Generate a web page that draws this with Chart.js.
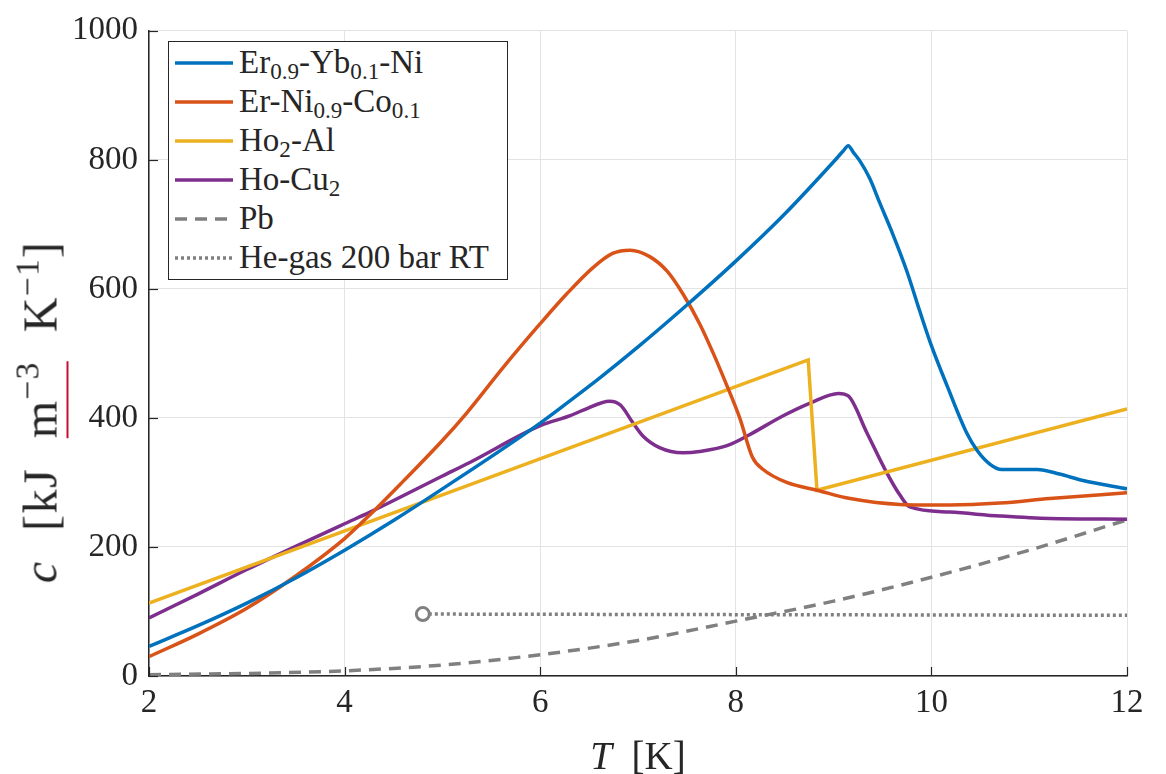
<!DOCTYPE html>
<html>
<head>
<meta charset="utf-8">
<script src="https://cdn.jsdelivr.net/npm/chart.js@4"></script>
<style>
  html, body { margin: 0; padding: 0; background: #fff; }
  #wrap { position: relative; width: 1166px; height: 774px; font-family: "Liberation Serif", "DejaVu Serif", "Times New Roman", serif; color: #262626; }
  #plot { position: absolute; left: 0; top: 0; }
  #legend { position: absolute; left: 168px; top: 41px; width: 340px; height: 239px; border: 1px solid #262626; background: #fff; box-sizing: border-box; padding-top: 1px; }
  .row { height: 39px; line-height: 39px; font-size: 33px; white-space: nowrap; display: flex; align-items: center; }
  .row svg { margin-left: 6px; margin-right: 6px; }
  .row sub { font-size: 0.7em; vertical-align: -0.25em; line-height: 0; }
  #ytitle { position: absolute; left: 40px; top: 412px; transform: translate(-50%, -50%) rotate(-90deg); font-size: 48px; letter-spacing: 1.5px; word-spacing: 16px; white-space: nowrap; }
  #ytitle sup { font-size: 0.7em; vertical-align: 0.55em; line-height: 0; letter-spacing: 1px; }
  .ul { border-bottom: 2px solid #c8102e; }
  #xtitle { position: absolute; left: 638px; top: 755px; transform: translate(-50%, -50%); font-size: 39px; white-space: nowrap; }
</style>
</head>
<body>
<div id="wrap">
  <canvas id="plot" width="1166" height="774"></canvas>
  <div id="legend"></div>
  <div id="ytitle"><i>c</i> [kJ <span class="ul">m<sup>−3</sup></span> K<sup>−1</sup>]</div>
  <div id="xtitle"><i>T</i>&nbsp;&nbsp;[K]</div>
</div>
<script>
// Er0.9-Yb0.1-Ni
const erYbT = [2, 2.5, 3, 3.5, 4, 4.5, 5, 6, 6.3, 6.61, 7, 7.5, 8, 8.5, 9, 9.1, 9.15, 9.2, 9.27, 9.37, 9.47, 9.61, 9.75, 9.88, 10, 10.16, 10.36, 10.47, 10.6, 10.72, 11.08, 11.31, 11.55, 12];
const erYbC = [46, 78, 113, 152, 195, 241, 290, 392, 426, 462, 510, 575, 643, 716, 797, 814, 822, 812, 798, 771, 734, 683, 627, 566, 512, 450, 377, 349, 328, 320, 320, 313, 303, 290];

// Er-Ni0.9-Co0.1
const erNiT = [2, 2.5, 3, 3.5, 4, 4.26, 4.6, 5, 5.25, 5.62, 6, 6.27, 6.54, 6.74, 6.92, 7.12, 7.3, 7.46, 7.63, 7.77, 7.89, 8.04, 8.17, 8.28, 8.52, 8.83, 9.17, 9.68, 10.19, 10.7, 11.21, 12];
const erNiC = [30, 65, 105, 155, 213, 250, 302, 365, 408, 478, 546, 592, 633, 655, 660, 650, 627, 592, 546, 500, 457, 400, 339, 320, 300, 288, 275, 266, 265, 268, 275, 284];

// Ho2-Al
const hoAlT = [2, 8.74, 8.83, 12];
const hoAlC = [113, 490, 288, 414];

// Ho-Cu2
const hoCuT = [2, 2.5, 3, 3.5, 4, 4.26, 5, 5.28, 6, 6.3, 6.44, 6.71, 6.82, 6.95, 7.05, 7.22, 7.46, 7.63, 7.91, 8.14, 8.48, 8.76, 9.05, 9.15, 9.34, 9.54, 9.68, 9.78, 10.19, 10.7, 11.21, 12];
const hoCuC = [90, 127, 165, 201, 236, 254, 310, 331, 388, 403, 412, 426, 420, 392, 372, 354, 346, 348, 357, 374, 403, 423, 438, 434, 377, 316, 280, 262, 254, 248, 244, 243];

// Pb
const pbT = [2, 3, 4, 5, 6, 7, 8, 9, 10, 11, 12];
const pbC = [2, 4, 8, 17, 33, 55, 85, 116, 153, 195, 242];

// He-gas 200 bar RT
const heT = [4.8, 12];
const heC = [96, 94];

const xTicks = [2, 4, 6, 8, 10, 12];
const yTicks = [0, 200, 400, 600, 800, 1000];

const legendItems = [
  { html: "Er<sub>0.9</sub>-Yb<sub>0.1</sub>-Ni", color: "#0072BD", dash: "" },
  { html: "Er-Ni<sub>0.9</sub>-Co<sub>0.1</sub>", color: "#D95319", dash: "" },
  { html: "Ho<sub>2</sub>-Al", color: "#EDB120", dash: "" },
  { html: "Ho-Cu<sub>2</sub>", color: "#7E2F8E", dash: "" },
  { html: "Pb", color: "#808080", dash: "12 8" },
  { html: "He-gas 200 bar RT", color: "#808080", dash: "3 3" }
];

const serif = "'Liberation Serif', 'DejaVu Serif', serif";

function pts(xs, ys) {
  return xs.map((x, i) => ({ x: x, y: ys[i] }));
}

function line(label, xs, ys, color, dash, smooth) {
  return {
    label: label,
    data: pts(xs, ys),
    borderColor: color,
    backgroundColor: color,
    borderWidth: 3.5,
    borderDash: dash || [],
    pointRadius: 0,
    cubicInterpolationMode: smooth ? "monotone" : "default",
    tension: 0,
    fill: false
  };
}

const heLine = line("He-gas 200 bar RT", heT, heC, "#808080", [3, 3]);
heLine.pointRadius = (ctx) => ctx.dataIndex === 0 ? 6.5 : 0;
heLine.pointBorderWidth = 3;
heLine.pointBackgroundColor = "#fff";
heLine.pointBorderColor = "#808080";

const heDot = {
  label: "",
  data: pts(heT.slice(0, 1), heC.slice(0, 1)),
  showLine: false,
  pointRadius: 1.6,
  pointBackgroundColor: "#808080",
  pointBorderWidth: 0
};

// MATLAB style inward ticks
const innerTicks = {
  id: "innerTicks",
  afterDraw(chart) {
    const c = chart.ctx;
    const xs = chart.scales.x, ys = chart.scales.y;
    const a = chart.chartArea;
    c.save();
    c.strokeStyle = "#262626";
    c.lineWidth = 1.2;
    xTicks.forEach(t => {
      const px = Math.round(xs.getPixelForValue(t)) + 0.5;
      c.beginPath();
      c.moveTo(px, a.bottom);
      c.lineTo(px, a.bottom - 9);
      c.stroke();
    });
    yTicks.forEach(t => {
      const py = Math.round(ys.getPixelForValue(t)) + 0.5;
      c.beginPath();
      c.moveTo(a.left, py);
      c.lineTo(a.left + 9, py);
      c.stroke();
    });
    c.restore();
  }
};

new Chart(document.getElementById("plot"), {
  type: "line",
  data: {
    datasets: [
      line("Er0.9-Yb0.1-Ni", erYbT, erYbC, "#0072BD", null, true),
      line("Er-Ni0.9-Co0.1", erNiT, erNiC, "#D95319", null, true),
      line("Ho2-Al", hoAlT, hoAlC, "#EDB120"),
      line("Ho-Cu2", hoCuT, hoCuC, "#7E2F8E", null, true),
      line("Pb", pbT, pbC, "#808080", [12, 8], true),
      heLine,
      heDot
    ]
  },
  options: {
    responsive: false,
    animation: false,
    layout: { padding: { top: 24, right: 39, left: 0, bottom: 0 } },
    plugins: {
      legend: { display: false },
      tooltip: { enabled: false }
    },
    scales: {
      x: {
        type: "linear",
        min: 2,
        max: 12,
        afterBuildTicks: (s) => { s.ticks = xTicks.map(v => ({ value: v })); },
        afterFit: (s) => { s.height = 98; },
        ticks: {
          font: { family: serif, size: 33 },
          color: "#262626",
          padding: 8,
          callback: (v) => String(v)
        },
        grid: { color: "#e3e3e3", lineWidth: 1, drawTicks: false },
        border: { color: "#262626", width: 1.5 }
      },
      y: {
        min: 0,
        max: 1000,
        afterBuildTicks: (s) => { s.ticks = yTicks.map(v => ({ value: v })); },
        afterFit: (s) => { s.width = 149; },
        ticks: {
          font: { family: serif, size: 33 },
          color: "#262626",
          padding: 11,
          callback: (v) => String(v)
        },
        grid: { color: "#e3e3e3", lineWidth: 1, drawTicks: false },
        border: { color: "#262626", width: 1.5 }
      }
    }
  },
  plugins: [innerTicks]
});

const leg = document.getElementById("legend");
legendItems.forEach(it => {
  const row = document.createElement("div");
  row.className = "row";
  row.innerHTML =
    '<svg width="58" height="8"><line x1="0" y1="4" x2="58" y2="4" stroke="' + it.color +
    '" stroke-width="3.5"' + (it.dash ? ' stroke-dasharray="' + it.dash + '"' : '') + '/></svg>' +
    '<span>' + it.html + '</span>';
  leg.appendChild(row);
});
</script>
</body>
</html>
